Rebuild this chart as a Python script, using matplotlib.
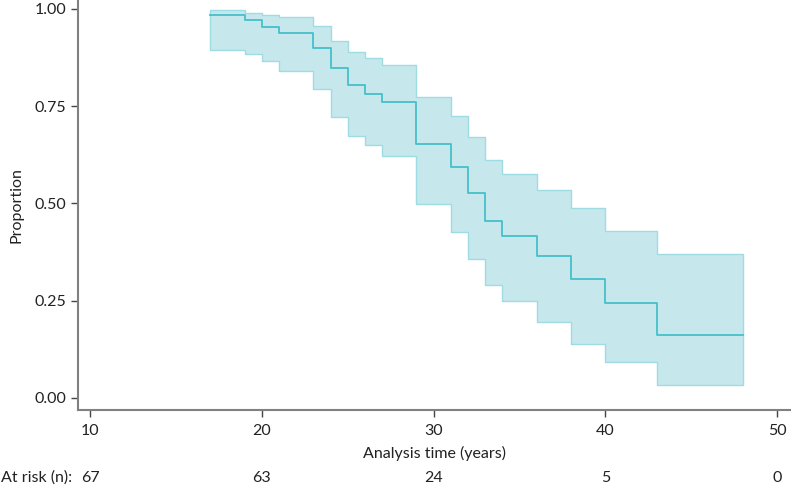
import matplotlib.pyplot as plt
import numpy as np

plt.rcParams['font.family'] = ['Lato', 'DejaVu Sans']

# step times (years) and survival estimates, step='post'
times = [17, 19, 20, 21, 23, 24, 25, 26, 27, 29, 31, 32, 33, 34, 36, 38, 40, 43, 48]
surv = [0.985, 0.971, 0.954, 0.937, 0.899, 0.847, 0.804, 0.782, 0.760, 0.653,
        0.593, 0.526, 0.454, 0.416, 0.364, 0.306, 0.244, 0.163, 0.163]
upper = [0.998, 0.990, 0.985, 0.979, 0.955, 0.917, 0.889, 0.873, 0.855, 0.774,
         0.724, 0.670, 0.612, 0.575, 0.534, 0.488, 0.429, 0.370, 0.370]
lower = [0.895, 0.885, 0.865, 0.841, 0.793, 0.722, 0.674, 0.649, 0.621, 0.498,
         0.427, 0.357, 0.290, 0.248, 0.196, 0.139, 0.092, 0.034, 0.034]

risk_times = [10, 20, 30, 40, 50]
at_risk = [67, 63, 24, 5, 0]

line_col = '#45c0ca'
fill_col = '#c6e8ed'
edge_col = '#9fdbe2'
axis_col = '#808080'

fig = plt.figure(figsize=(7.91, 4.90), dpi=100)
ax = fig.add_axes([78 / 791, 80 / 490, 713 / 791, 410 / 490])

ax.fill_between(times, lower, upper, step='post', facecolor=fill_col,
                edgecolor=edge_col, linewidth=1.0)
ax.step(times, surv, where='post', color=line_col, linewidth=1.3)

ax.set_xlim(9.3, 50.8)
ax.set_ylim(-0.031, 1.023)
ax.set_xticks(risk_times)
ax.set_yticks([0, 0.25, 0.5, 0.75, 1.0])
ax.set_yticklabels(['0.00', '0.25', '0.50', '0.75', '1.00'])

for s in ['top', 'right']:
    ax.spines[s].set_visible(False)
for s in ['left', 'bottom']:
    ax.spines[s].set_color(axis_col)
    ax.spines[s].set_linewidth(1.5)
ax.tick_params(colors='#222222', labelsize=11.5, length=5, width=1, direction='out')
ax.tick_params(axis='both', color='#444444')
ax.tick_params(axis='x', pad=5)

ax.set_xlabel('Analysis time (years)', fontsize=11.5, color='#222222', labelpad=6)
ax.set_ylabel('Proportion', fontsize=11.5, color='#222222', labelpad=8)

# number at risk row
trans = ax.get_xaxis_transform()
for t, n in zip(risk_times, at_risk):
    ax.text(t, -0.165, str(n), transform=trans, ha='center', va='center',
            fontsize=11.5, color='#222222', clip_on=False)
fig.text(1 / 791, 1 - 478 / 490, 'At risk (n):', ha='left', va='center',
         fontsize=11.5, color='#222222')

fig.savefig('out.png', dpi=100)
